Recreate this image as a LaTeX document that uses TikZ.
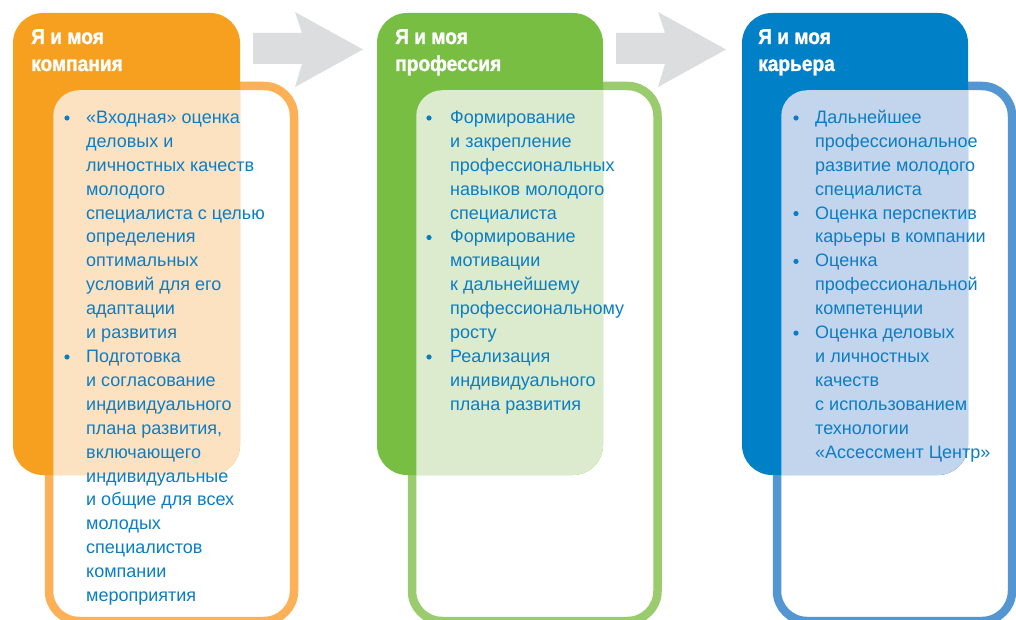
\documentclass[tikz,border=0pt]{standalone}
\usepackage{fontspec}
\setmainfont{Liberation Sans}
\newfontfamily\ttlfont[FakeStretch=0.89,FakeBold=1.2]{Liberation Sans Bold}
\definecolor{txtblue}{RGB}{11,125,194}
\definecolor{orFill}{RGB}{247,160,31}
\definecolor{orOut}{RGB}{252,177,86}
\definecolor{orLight}{RGB}{253,226,194}
\definecolor{grFill}{RGB}{119,190,67}
\definecolor{grOut}{RGB}{154,203,108}
\definecolor{grLight}{RGB}{220,235,206}
\definecolor{blFill}{RGB}{0,128,199}
\definecolor{blOut}{RGB}{84,150,209}
\definecolor{blLight}{RGB}{195,213,237}
\definecolor{arrgray}{RGB}{220,221,223}
\begin{document}
\begin{tikzpicture}[x=1pt,y=-1pt,
  body/.style={anchor=base west, inner sep=0pt, text=txtblue, font=\fontsize{18}{22}\selectfont},
  ttl/.style={anchor=base west, inner sep=0pt, text=white, font=\ttlfont\fontsize{21.5}{24}\selectfont},
  dot/.style={circle, fill=txtblue, inner sep=0pt, minimum size=5.2pt},
  outl/.style={line width=8.5pt, fill=white, rounded corners=30pt},
  panel/.style={rounded corners=30pt},
  inclip/.style={rounded corners=25.75pt},
  bigarrow/.style={fill=arrgray}]
\useasboundingbox (0,0) rectangle (1016,620);
\fill[white] (0,0) rectangle (1016,620);

% arrows
\fill[bigarrow] (253,33) -- (302,33) -- (295,12) -- (363,49.5) -- (295,87) -- (302,64) -- (253,64) -- cycle;
\fill[bigarrow] (616,33) -- (665,33) -- (658,12) -- (726,49.5) -- (658,87) -- (665,64) -- (616,64) -- cycle;

% column 1
\draw[outl, draw=orOut] (49,86) rectangle (294,621);
\fill[panel, orFill] (13,13) rectangle (240,475);
\begin{scope}
  \clip[inclip] (53.25,90.25) rectangle (289.75,616.75);
  \fill[panel, orLight] (13,13) rectangle (240,475);
\end{scope}

% column 2
\draw[outl, draw=grOut] (412,86) rectangle (657.5,621);
\fill[panel, grFill] (377,13) rectangle (603,475);
\begin{scope}
  \clip[inclip] (416.25,90.25) rectangle (653.25,616.75);
  \fill[panel, grLight] (377,13) rectangle (603,475);
\end{scope}

% column 3
\draw[outl, draw=blOut] (777,86) rectangle (1012,621);
\fill[panel, blFill] (742,13) rectangle (968,475);
\begin{scope}
  \clip[inclip] (781.25,90.25) rectangle (1007.75,616.75);
  \fill[panel, blLight] (742,13) rectangle (968,475);
\end{scope}

% titles
\node[ttl] (t1a) at (31,44) {Я и моя};
\node[ttl] (t1b) at (31,71) {компания};
\node[ttl] (t2a) at (395,44) {Я и моя};
\node[ttl] (t2b) at (395,71) {профессия};
\node[ttl] (t3a) at (758,44) {Я и моя};
\node[ttl] (t3b) at (758,71) {карьера};

% column 1 text
\foreach \t [count=\i from 0] in {{«Входная» оценка},{деловых и},{личностных качеств},{молодого},{специалиста с целью},{определения},{оптимальных},{условий для его},{адаптации},{и развития},{Подготовка},{и согласование},{индивидуального},{плана развития,},{включающего},{индивидуальные},{и общие для всех},{молодых},{специалистов},{компании},{мероприятия}}
  {\node[body] (a\i) at (86,{123.5+\i*23.9}) {\t};}
\foreach \i in {0,10}
  {\node[dot] (ab\i) at (67,{118+\i*23.9}) {};}

% column 2 text
\foreach \t [count=\i from 0] in {{Формирование},{и закрепление},{профессиональных},{навыков молодого},{специалиста},{Формирование},{мотивации},{к дальнейшему},{профессиональному},{росту},{Реализация},{индивидуального},{плана развития}}
  {\node[body] (b\i) at (450,{123.5+\i*23.9}) {\t};}
\foreach \i in {0,5,10}
  {\node[dot] (bb\i) at (429,{118+\i*23.9}) {};}

% column 3 text
\foreach \t [count=\i from 0] in {{Дальнейшее},{профессиональное},{развитие молодого},{специалиста},{Оценка перспектив},{карьеры в компании},{Оценка},{профессиональной},{компетенции},{Оценка деловых},{и личностных},{качеств},{с использованием},{технологии},{«Ассессмент Центр»}}
  {\node[body] (c\i) at (815,{123.5+\i*23.9}) {\t};}
\foreach \i in {0,4,6,9}
  {\node[dot] (cb\i) at (796,{118+\i*23.9}) {};}
\end{tikzpicture}
\end{document}
